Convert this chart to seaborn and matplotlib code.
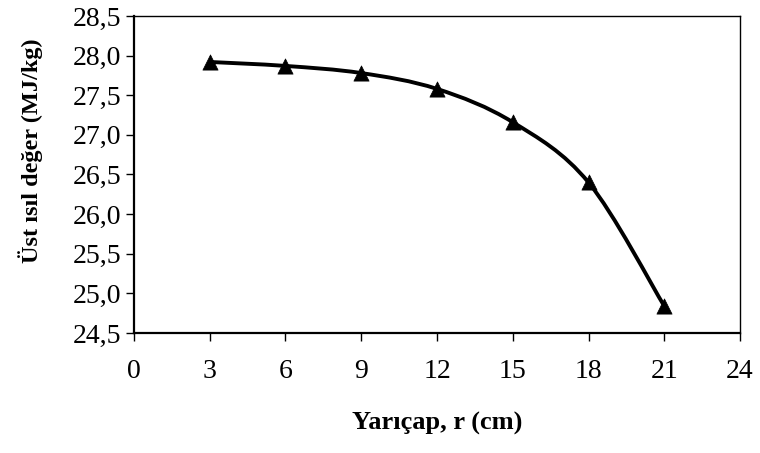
import numpy as np
import pandas as pd
import matplotlib
matplotlib.use("Agg")
import matplotlib.pyplot as plt
import seaborn as sns
from matplotlib.path import Path
from matplotlib.patches import PathPatch
from matplotlib.ticker import FuncFormatter

# data
radius = [3, 6, 9, 12, 15, 18, 21]
heating_value = [27.92, 27.87, 27.78, 27.58, 27.16, 26.40, 24.84]

x_ticks = [0, 3, 6, 9, 12, 15, 18, 21, 24]
y_ticks = [24.5, 25.0, 25.5, 26.0, 26.5, 27.0, 27.5, 28.0, 28.5]

df = pd.DataFrame({"r": radius, "hhv": heating_value})

sns.set_theme(style="white")
plt.rcParams["font.family"] = ["Liberation Serif", "DejaVu Serif"]
plt.rcParams["text.color"] = "black"
plt.rcParams["axes.labelcolor"] = "black"

fig = plt.figure(figsize=(7.6, 4.53), dpi=100)
ax = fig.add_axes([0.1763, 0.2649, 0.7974, 0.6998])


# smoothed line like the spreadsheet's "smoothed line" option (Catmull-Rom -> Bezier)
def smooth_path(xs, ys, t=1 / 6):
    pts = np.column_stack([xs, ys]).astype(float)
    verts = [pts[0]]
    codes = [Path.MOVETO]
    n = len(pts)
    for i in range(n - 1):
        p0 = pts[i - 1] if i > 0 else pts[i]
        p1 = pts[i]
        p2 = pts[i + 1]
        p3 = pts[i + 2] if i + 2 < n else pts[i + 1]
        c1 = p1 + (p2 - p0) * t
        c2 = p2 - (p3 - p1) * t
        verts += [c1, c2, p2]
        codes += [Path.CURVE4] * 3
    return Path(verts, codes)


ax.add_patch(PathPatch(smooth_path(df["r"], df["hhv"]), facecolor="none",
                       edgecolor="black", lw=2.8, zorder=2))
sns.scatterplot(data=df, x="r", y="hhv", marker="^", s=120, color="black",
                edgecolor="black", linewidth=0.5, ax=ax, zorder=3)

ax.set_xlim(0, 24)
ax.set_ylim(24.5, 28.5)
ax.set_xticks(x_ticks)
ax.set_yticks(y_ticks)
ax.yaxis.set_major_formatter(FuncFormatter(lambda v, p: f"{v:.1f}".replace(".", ",")))

for s in ax.spines.values():
    s.set_visible(True)
    s.set_color("black")
    s.set_linewidth(1.0)
ax.spines["left"].set_linewidth(1.6)
ax.spines["bottom"].set_linewidth(1.6)

ax.tick_params(axis="both", direction="out", length=6, width=1, color="black",
               labelsize=20, labelcolor="black", bottom=True, left=True)
ax.tick_params(axis="x", pad=13)
ax.tick_params(axis="y", pad=3)

ax.set_xlabel("Yarıçap, r (cm)", fontsize=19, fontweight="bold", color="black")
ax.set_ylabel("Üst ısıl değer (MJ/kg)", fontsize=17.5, fontweight="bold", color="black")
ax.xaxis.set_label_coords(0.5, -0.25)
ax.yaxis.set_label_coords(-0.150, 0.575)

fig.savefig("out.png", dpi=100)
